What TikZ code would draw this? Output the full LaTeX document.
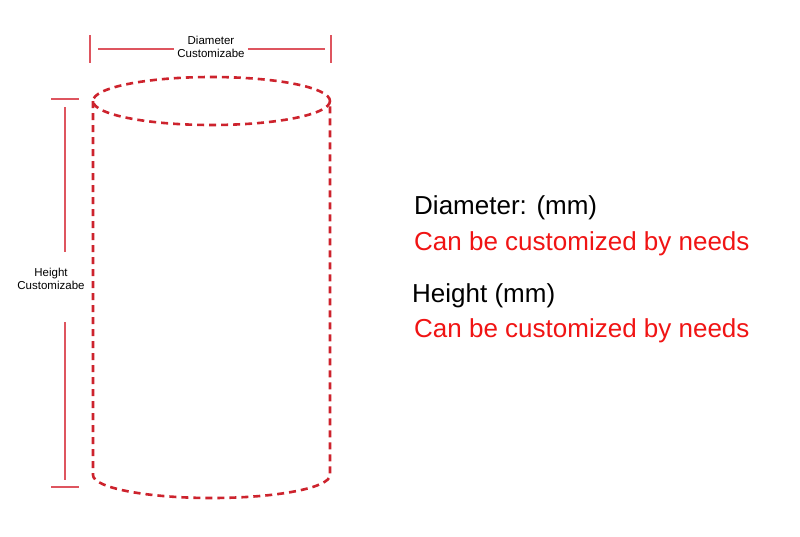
\documentclass[tikz,border=0pt]{standalone}
\usepackage{fontspec}
\setmainfont{Liberation Sans}
\usetikzlibrary{positioning}
\definecolor{cylred}{RGB}{205,35,45}
\definecolor{dimred}{RGB}{222,85,95}
\definecolor{txtred}{RGB}{240,20,20}

\begin{document}
\begin{tikzpicture} [
    x=1pt, y=-1pt,
    outline/.style={draw=cylred, line width=2.6pt, dash pattern=on 7pt off 5pt},
    dimline/.style={draw=dimred, line width=1.3pt},
    small/.style={font=\fontsize{11.5}{13}\selectfont, align=center, inner sep=3pt},
    big/.style={font=\fontsize{26}{30}\selectfont, anchor=west, inner sep=0pt}
    ]
    \useasboundingbox (0,0) rectangle (800,536);
    %Cylinder
    \draw[outline] (211.5,101) ellipse [x radius=118.5, y radius=24];
    \draw[outline] (93,101) -- (93,475) arc [start angle=180, end angle=0, x radius=118.5, y radius=23] -- (330,101);
    %Diameter dimension
    \node[small] (dlab) at (211,47) {Diameter\\Customizabe};
    \coordinate (dl) at (90,49);
    \coordinate (dr) at (331,49);
    \draw[dimline] (90,35) -- (90,63);
    \draw[dimline] (331,35) -- (331,63);
    \draw[dimline] ([xshift=8pt]dl) -- (dlab.west |- dl);
    \draw[dimline] (dlab.east |- dr) -- ([xshift=-6pt]dr);
    %Height dimension
    \node[small] (hlab) at (51,279) {Height\\Customizabe};
    \coordinate (ht) at (65,107);
    \coordinate (hb) at (65,480);
    \draw[dimline] (51,99) -- (79,99);
    \draw[dimline] (51,487) -- (79,487);
    \draw[dimline] (ht) -- (65,252);
    \draw[dimline] (65,322) -- (hb);
    %Texts
    \node[big] (d1) at (414,208) {Diameter: (mm)};
    \node[big, text=txtred] (d2) at (414,244) {Can be customized by needs};
    \node[big] (h1) at (412,296) {Height (mm)};
    \node[big, text=txtred] (h2) at (414,331) {Can be customized by needs};
\end{tikzpicture}
\end{document}
